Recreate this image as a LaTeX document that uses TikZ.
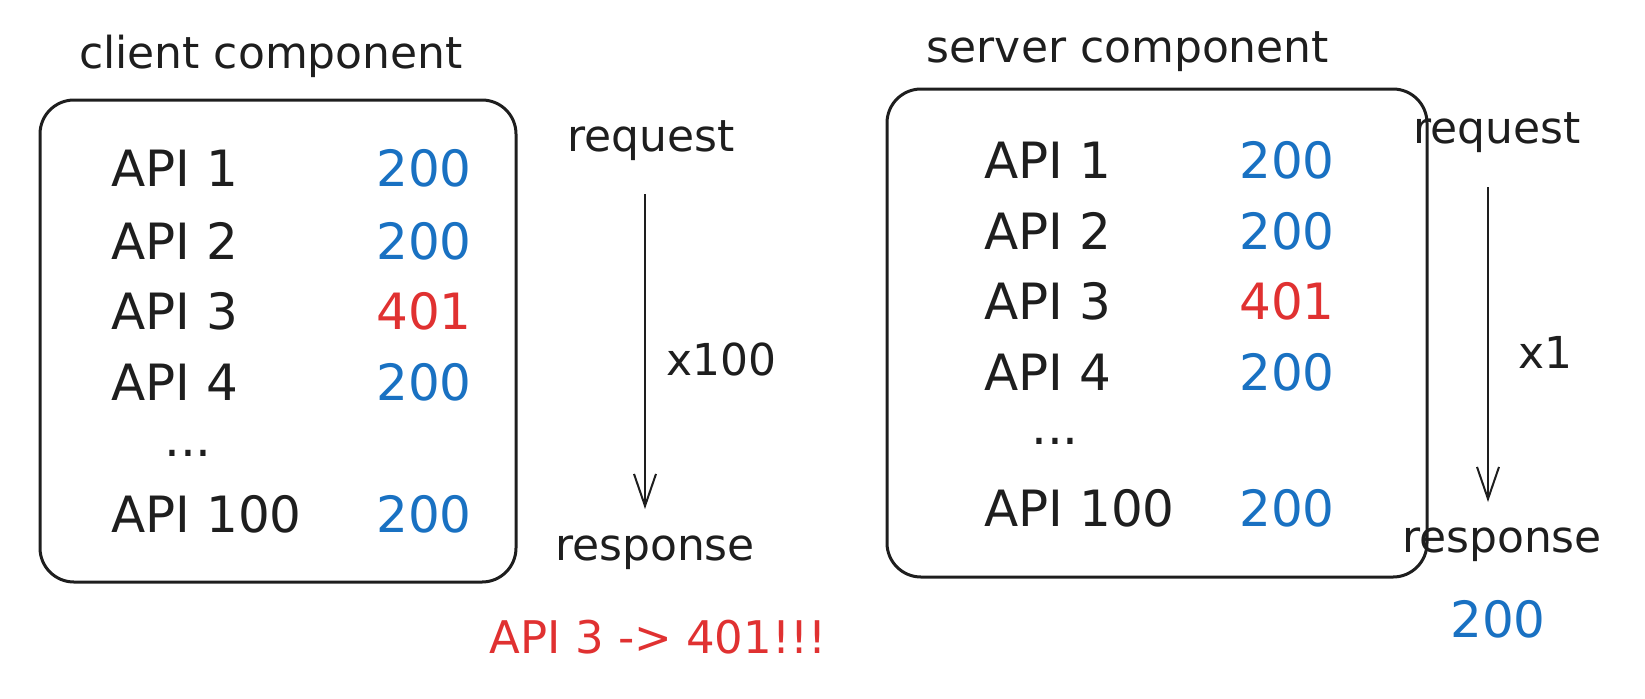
\documentclass[tikz,border=0pt]{standalone}
\usepackage{fontspec}
\setmainfont{DejaVu Sans}
\usetikzlibrary{arrows.meta}
\definecolor{Ink}{HTML}{1E1E1E}
\definecolor{Blue}{HTML}{1971C2}
\definecolor{Red}{HTML}{E03131}
\newcommand\ok{\color{Blue}200}
\newcommand\fail{\color{Red}401}

\begin{document}
\begin{tikzpicture}[
  x=0.5pt,
  y=-0.5pt,
  inner sep=0pt,
  Ink,
  every node/.style={font=\fontsize{22}{26}\selectfont, text depth=0pt},
  row/.style={font=\fontsize{25}{30}\selectfont},
  panel/.style={draw, line width=1.5pt, rounded corners=17pt},
  flow/.style={line width=1pt, -{Straight Barb[length=16pt,width=11pt]}}]
\useasboundingbox (0,0) rectangle (1645,698);
% client side
\draw[panel] (40,100) rectangle (516,582);
\node (ctitle) at (271,52) {client component};
\foreach \i/\y/\code in {
  1/168/\ok, 2/241/\ok, 3/311/\fail, 4/382/\ok, 100/514/\ok}{
  \node[row, anchor=west] (capi\i) at (111,\y) {API \i};
  \node[row] (ccode\i) at (424,\y) {\code};}
\node[row] (cdots) at (188,453) {...};
\node (creq) at (651,136) {request};
\coordinate (cfrom) at (645,194);
\coordinate (cto) at (645,509);
\draw[flow] (cfrom) -- (cto);
\node[anchor=west] (ccount) at (666,359) {x100};
\node (cres) at (655,548) {response};
\node[font=\fontsize{22.5}{27}\selectfont] (cerr) at (658,637)
  {\color{Red}API 3 -> 401!!!};
% server side
\draw[panel] (887,89) rectangle (1427,577);
\node (stitle) at (1128,47) {server component};
\foreach \i/\y/\code in {
  1/160/\ok, 2/231/\ok, 3/301/\fail, 4/372/\ok, 100/508/\ok}{
  \node[row, anchor=west] (sapi\i) at (984,\y) {API \i};
  \node[row] (scode\i) at (1287,\y) {\code};}
\node[row] (sdots) at (1055,441) {...};
\node (sreq) at (1497,128) {request};
\coordinate (sfrom) at (1488,187);
\coordinate (sto) at (1488,502);
\draw[flow] (sfrom) -- (sto);
\node[anchor=west] (scount) at (1518,352) {x1};
\node (sres) at (1502,540) {response};
\node[row] (sout) at (1498,619) {\ok};
\end{tikzpicture}
\end{document}
